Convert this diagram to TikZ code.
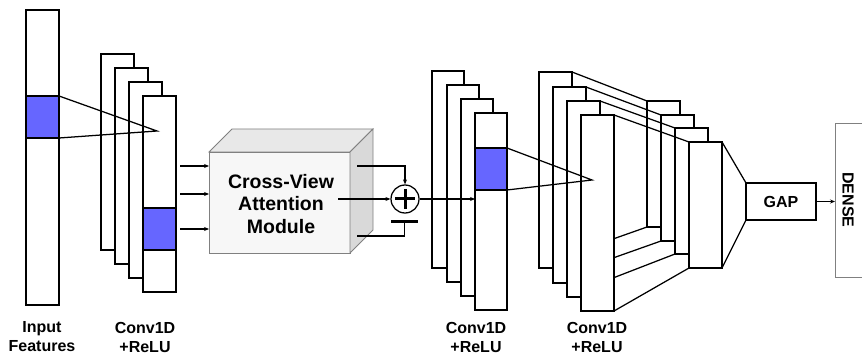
\documentclass[tikz,border=0pt]{standalone}
\usepackage{fontspec}
\setmainfont{Liberation Sans}
\usetikzlibrary{arrows.meta,calc}
\definecolor{featblue}{RGB}{102,102,255}
\begin{document}
\begin{tikzpicture}[x=1pt,y=-1pt,
  blk/.style={draw, fill=white, line width=1.25pt, inner sep=0pt, outer sep=0pt, anchor=north west, minimum width=33pt},
  hot/.style={draw, fill=featblue, line width=1.25pt, inner sep=0pt, outer sep=0pt, anchor=north west, minimum width=33pt},
  ln/.style={line width=1.25pt},
  arr/.style={line width=1.2pt, -{Stealth[length=5pt,width=4pt]}},
  lbl/.style={align=center, font=\fontsize{16}{19}\selectfont\bfseries},
]
\useasboundingbox (0,0) rectangle (862,358);
\clip (0,0) rectangle (862,358);

% input features
\node[blk, minimum height=295pt] (inp) at (26,10) {};
\node[hot, minimum height=42pt] (inphot) at (26,96) {};
\coordinate (tipA) at (157,131);

% first conv stack
\node[blk, minimum height=196pt] (a1) at (101,54) {};
\node[blk, minimum height=196pt] (a2) at (115,68) {};
\node[blk, minimum height=196pt] (a3) at (129,82) {};
\node[blk, minimum height=196pt] (a4) at (143,96) {};
\node[hot, minimum height=42pt] (a4hot) at (143,208) {};
\draw[ln] (inphot.north east) -- (tipA) -- (inphot.south east);

% cross-view attention module
\node[draw=gray, fill=gray!6, line width=0.8pt, inner sep=0pt, outer sep=0pt, anchor=north west,
      minimum width=141pt, minimum height=101pt] (cv) at (209,152) {};
\filldraw[draw=gray, fill=gray!18, line width=0.8pt] (cv.north west) -- ++(23,-23) -- ([shift={(23,-23)}]cv.north east) -- (cv.north east) -- cycle;
\filldraw[draw=gray, fill=gray!30, line width=0.8pt] (cv.north east) -- ++(23,-23) -- ([shift={(23,-23)}]cv.south east) -- (cv.south east) -- cycle;
\node[align=center, font=\fontsize{19.5}{22.5}\selectfont\bfseries] (cvtxt) at (281,204) {Cross-View\\Attention\\Module};

\coordinate (in1) at (180,166);
\coordinate (in2) at (180,194);
\coordinate (in3) at (180,229);
\draw[arr] (in1) -- (in1 -| cv.west);
\draw[arr] (in2) -- (in2 -| cv.west);
\draw[arr] (in3) -- (in3 -| cv.west);

% residual sum
\node[circle, draw, line width=1.25pt, minimum size=28pt, inner sep=0pt] (sum) at (405,199) {};
\draw[line width=3pt] ([xshift=-10pt]sum.center) -- ([xshift=10pt]sum.center);
\draw[line width=3pt] ([yshift=-10pt]sum.center) -- ([yshift=10pt]sum.center);
\coordinate (outT) at (357,166);
\coordinate (outM) at (338,199);
\coordinate (outB) at (357,236);
\coordinate (minusL) at (391,222);
\coordinate (minusR) at (418,222);
\draw[arr] (outT) -| (sum.north);
\draw[arr] (outM) -- (sum.west);
\draw[line width=3pt] (minusL) -- (minusR);
\draw[ln] (outB) -| ($(minusL)!0.5!(minusR)$);

% second conv stack
\node[blk, minimum width=32pt, minimum height=197pt] (b1) at (432,71) {};
\node[blk, minimum width=32pt, minimum height=197pt] (b2) at (447,85) {};
\node[blk, minimum width=32pt, minimum height=197pt] (b3) at (461,99) {};
\node[blk, minimum width=32pt, minimum height=197pt] (b4) at (475,113) {};
\node[hot, minimum width=32pt, minimum height=42pt] (b4hot) at (475,148) {};
\draw[arr] (sum.east) -- (sum.east -| b4.west);

% third conv stack (extruded frames)
\node[blk, minimum height=126pt] (r1) at (647,101) {};
\node[blk, minimum height=126pt] (r2) at (661,115) {};
\node[blk, minimum height=126pt] (r3) at (675,128) {};
\node[blk, minimum height=126pt] (r4) at (689,142) {};
\coordinate (c1top) at (572,72);
\coordinate (c2top) at (586,87);
\coordinate (c3top) at (600,101);
\coordinate (c1bot) at (613,239);
\coordinate (c2bot) at (613,258);
\coordinate (c3bot) at (613,278);
\draw[ln] (c1top) -- (r1.north west);
\draw[ln] (c2top) -- (r2.north west);
\draw[ln] (c3top) -- (r3.north west);
\draw[ln] (c1bot) -- (r1.south west);
\draw[ln] (c2bot) -- (r2.south west);
\draw[ln] (c3bot) -- (r3.south west);
\node[blk, minimum height=196pt] (c1) at (539,72) {};
\node[blk, minimum height=196pt] (c2) at (553,87) {};
\node[blk, minimum height=196pt] (c3) at (567,101) {};
\node[blk, minimum height=196pt] (c4) at (581,115) {};
\draw[ln] (c4.north east) -- (r4.north west);
\draw[ln] (c4.south east) -- (r4.south west);

\coordinate (tipB) at (592,180);
\draw[ln] (b4hot.north east) -- (tipB) -- (b4hot.south east);

% GAP
\node[draw, line width=1.25pt, inner sep=0pt, outer sep=0pt, anchor=north west, minimum width=70pt, minimum height=37pt,
      font=\fontsize{16}{19}\selectfont\bfseries] (gap) at (746,183) {GAP};
\draw[ln] (r4.north east) -- (gap.north west);
\draw[ln] (r4.south east) -- (gap.south west);

% DENSE
\node[draw=gray, line width=0.8pt, inner sep=0pt, outer sep=0pt, anchor=north west, minimum width=40pt, minimum height=154pt] (dense) at (835,123) {};
\node[rotate=-90, font=\fontsize{16}{19}\selectfont\bfseries] (densetxt) at (848,200) {DENSE};
\draw[arr] (gap.east) -- (gap.east -| dense.west);

% labels
\node[lbl] (l1) at (42,337) {Input\\Features};
\node[lbl] (l2) at (145,337) {Conv1D\\+ReLU};
\node[lbl] (l3) at (476,337) {Conv1D\\+ReLU};
\node[lbl] (l4) at (597,337) {Conv1D\\+ReLU};
\end{tikzpicture}
\end{document}
